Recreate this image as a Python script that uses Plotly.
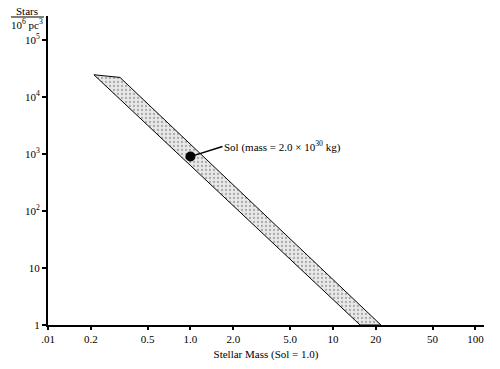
import math
import plotly.graph_objects as go

# Data
band_mass = [0.21, 0.32, 21.7, 15.5, 0.21]
band_density = [24500, 22000, 1.0, 1.0, 24500]

sol_mass = [1.0]
sol_density = [900]

x_tickvals = [0.1, 0.2, 0.5, 1.0, 2.0, 5.0, 10, 20, 50, 100]
x_ticktext = [".01", "0.2", "0.5", "1.0", "2.0", "5.0", "10", "20", "50", "100"]
y_tickvals = [1, 10, 100, 1000, 10000, 100000]
y_ticktext = ["1", "10", "10<sup>2</sup>", "10<sup>3</sup>", "10<sup>4</sup>", "10<sup>5</sup>"]

FONT = "Liberation Serif"

fig = go.Figure()
fig.add_trace(go.Scatter(
    x=band_mass, y=band_density, mode="lines", fill="toself",
    line=dict(color="black", width=1),
    fillcolor="#dcdcdc",
    fillpattern=dict(shape=".", bgcolor="#e8e8e8", fgcolor="#6e6e6e", size=4, solidity=0.25),
    hoverinfo="skip", showlegend=False,
))
fig.add_trace(go.Scatter(
    x=sol_mass, y=sol_density, mode="markers",
    marker=dict(color="black", size=10),
    showlegend=False,
))

fig.add_annotation(
    x=math.log10(sol_mass[0]), y=math.log10(sol_density[0]),
    xref="x", yref="y",
    text="Sol (mass = 2.0 × 10<sup>30</sup> kg)",
    showarrow=True, arrowhead=0, arrowwidth=1.5, arrowcolor="black",
    ax=32, ay=-10, xanchor="left", yanchor="middle", standoff=4,
    font=dict(family=FONT, size=11, color="black"),
)

# Y axis title as a fraction
fig.add_annotation(xref="paper", yref="paper", x=-0.0493, y=1.0146, text="Stars",
                   showarrow=False, xanchor="center", yanchor="middle",
                   font=dict(family=FONT, size=11, color="black"))
fig.add_annotation(xref="paper", yref="paper", x=-0.0493, y=0.974, text="10<sup>6</sup> pc<sup>3</sup>",
                   showarrow=False, xanchor="center", yanchor="middle",
                   font=dict(family=FONT, size=11, color="black"))
fig.add_shape(type="line", xref="paper", yref="paper", x0=-0.0849, x1=-0.0092,
              y0=0.9968, y1=0.9968, line=dict(color="black", width=1))

fig.update_xaxes(
    type="log", range=[-1, 2.06], automargin=False,
    tickvals=x_tickvals, ticktext=x_ticktext,
    showgrid=False, zeroline=False,
    showline=True, linecolor="black", linewidth=2,
    ticks="outside", ticklen=3, tickwidth=2, tickcolor="black",
    tickfont=dict(family=FONT, size=11, color="black"),
    title=dict(text="Stellar Mass (Sol = 1.0)", font=dict(family=FONT, size=11, color="black"), standoff=6),
)
fig.update_yaxes(
    type="log", range=[0, 5.42], automargin=False,
    tickvals=y_tickvals, ticktext=y_ticktext,
    showgrid=False, zeroline=False,
    showline=True, linecolor="black", linewidth=2,
    ticks="outside", ticklen=4, tickwidth=2, tickcolor="black",
    tickfont=dict(family=FONT, size=11, color="black"),
)

fig.update_layout(
    width=500, height=369,
    margin=dict(l=48, r=16, t=16, b=44, autoexpand=False),
    plot_bgcolor="white", paper_bgcolor="white",
    font=dict(family=FONT, size=11, color="black"),
    showlegend=False,
)

fig.write_html("out.html", config={"displayModeBar": False},
               post_script="document.body.style.margin='0';document.body.style.overflow='hidden';")
